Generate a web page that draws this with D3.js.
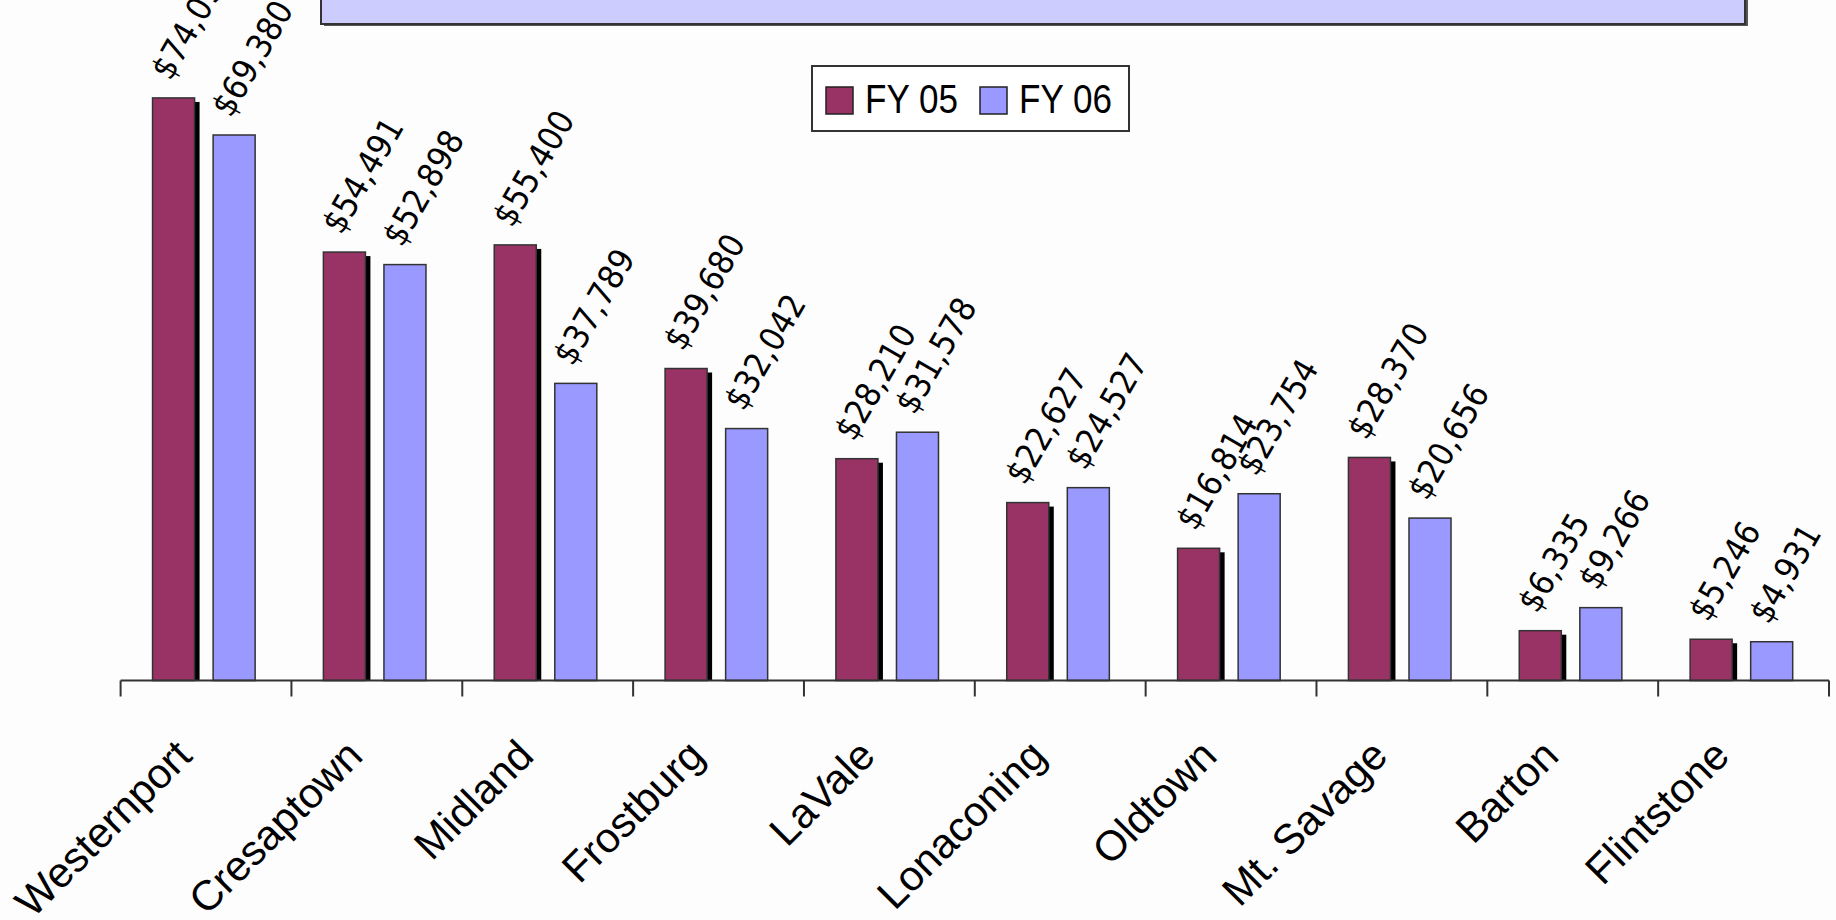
<!DOCTYPE html>
<html>
<head>
<meta charset="utf-8">
<script src="https://d3js.org/d3.v7.min.js"></script>
<style>
  body { margin: 0; background: #fdfdfd; }
  svg { display: block; }
</style>
</head>
<body>
<script>
//Chart data
var towns = ["Westernport", "Cresaptown", "Midland", "Frostburg", "LaVale",
             "Lonaconing", "Oldtown", "Mt. Savage", "Barton", "Flintstone"];
var seriesNames = ["FY 05", "FY 06"];
var fy05 = [74096, 54491, 55400, 39680, 28210, 22627, 16814, 28370, 6335, 5246];
var fy06 = [69380, 52898, 37789, 32042, 31578, 24527, 23754, 20656, 9266, 4931];
var seriesColors = ["#993366", "#9999ff"];

//Width and height
var w = 1836;
var h = 920;

var svg = d3.select("body")
            .append("svg")
            .attr("width", w)
            .attr("height", h);

svg.append("rect")
   .attr("width", w)
   .attr("height", h)
   .attr("fill", "#fdfdfd");

//Scales
var x = d3.scaleBand()
          .domain(towns)
          .range([120.6, 1829])
          .padding(0);

var xSeries = d3.scaleBand()
                .domain(seriesNames)
                .range([x.bandwidth() * 0.187, x.bandwidth() * 0.7875])
                .paddingInner(0.306);

var y = d3.scaleLinear()
          .domain([0, 80000])
          .range([680.5, 51.5]);

var fmt = d3.format(",");

//Title box (top is cut off)
svg.append("rect")
   .attr("x", 324).attr("y", -40)
   .attr("width", 1424).attr("height", 66)
   .attr("fill", "#555");
svg.append("rect")
   .attr("x", 321).attr("y", -40)
   .attr("width", 1424).attr("height", 64)
   .attr("fill", "#ccccff")
   .attr("stroke", "#333")
   .attr("stroke-width", 2);

//Build one record per bar
var bars = [];
towns.forEach(function(t, i) {
    bars.push({town: t, series: "FY 05", value: fy05[i]});
    bars.push({town: t, series: "FY 06", value: fy06[i]});
});

function barX(d) { return x(d.town) + xSeries(d.series); }

//Shadows behind FY 05 bars
svg.selectAll(".shadow")
   .data(bars.filter(function(d) { return d.series == "FY 05"; }))
   .enter()
   .append("rect")
   .attr("class", "shadow")
   .attr("x", function(d) { return barX(d) + 5; })
   .attr("y", function(d) { return y(d.value) + 4; })
   .attr("width", xSeries.bandwidth())
   .attr("height", function(d) { return y(0) - y(d.value) - 4; })
   .attr("fill", "#000");

//Bars
svg.selectAll(".bar")
   .data(bars)
   .enter()
   .append("rect")
   .attr("class", "bar")
   .attr("x", barX)
   .attr("y", function(d) { return y(d.value); })
   .attr("width", xSeries.bandwidth())
   .attr("height", function(d) { return y(0) - y(d.value); })
   .attr("fill", function(d) { return seriesColors[seriesNames.indexOf(d.series)]; })
   .attr("stroke", "#333")
   .attr("stroke-width", 1.5);

//Value labels, rotated
svg.selectAll(".val")
   .data(bars)
   .enter()
   .append("text")
   .attr("class", "val")
   .attr("transform", function(d) {
        var cx = barX(d) + xSeries.bandwidth() / 2 - 3;
        return "translate(" + cx + "," + (y(d.value) - 16) + ") rotate(-60)";
   })
   .attr("font-family", "'DejaVu Sans Condensed', 'DejaVu Sans', sans-serif")
   .attr("font-stretch", "condensed")
   .attr("font-size", 34)
   .attr("fill", "#000")
   .text(function(d) { return "$" + fmt(d.value); });

//X axis
var axis = svg.append("g")
              .attr("transform", "translate(0," + y(0) + ")");

axis.append("line")
    .attr("x1", x.range()[0]).attr("x2", x.range()[1])
    .attr("stroke", "#333")
    .attr("stroke-width", 2);

var tickPos = towns.map(function(t) { return x(t); }).concat([x.range()[1]]);
axis.selectAll(".tick")
    .data(tickPos)
    .enter()
    .append("line")
    .attr("x1", function(d) { return d; })
    .attr("x2", function(d) { return d; })
    .attr("y1", 0)
    .attr("y2", 16)
    .attr("stroke", "#333")
    .attr("stroke-width", 2);

//Category labels
svg.selectAll(".cat")
   .data(towns)
   .enter()
   .append("text")
   .attr("class", "cat")
   .attr("transform", function(d) {
        var cx = x(d) + x.bandwidth() / 2 - 12;
        return "translate(" + cx + ",758) rotate(-45)";
   })
   .attr("text-anchor", "end")
   .attr("font-family", "'Liberation Sans', Arial, sans-serif")
   .attr("font-size", 42)
   .attr("fill", "#000")
   .text(function(d) { return d; });

//Legend
var legend = svg.append("g");

legend.append("rect")
      .attr("x", 812).attr("y", 66)
      .attr("width", 317).attr("height", 65)
      .attr("fill", "#fff")
      .attr("stroke", "#333")
      .attr("stroke-width", 2);

var legendX = [826, 980];
seriesNames.forEach(function(s, i) {
    legend.append("rect")
          .attr("x", legendX[i]).attr("y", 87)
          .attr("width", 27).attr("height", 27)
          .attr("fill", seriesColors[i])
          .attr("stroke", "#222")
          .attr("stroke-width", 1.5);
    legend.append("text")
          .attr("x", legendX[i] + 39)
          .attr("y", 113)
          .attr("font-family", "'Liberation Sans', Arial, sans-serif")
          .attr("font-size", 40)
          .attr("textLength", 93)
          .attr("lengthAdjust", "spacingAndGlyphs")
          .attr("fill", "#000")
          .text(s);
});
</script>
</body>
</html>
